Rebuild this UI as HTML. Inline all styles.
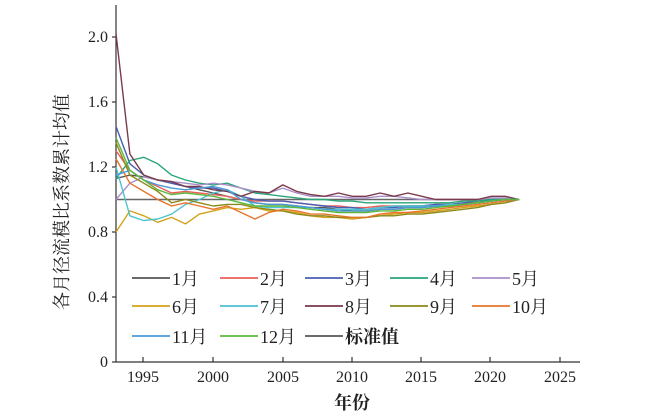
<!DOCTYPE html>
<html><head><meta charset="utf-8"><style>
html,body{margin:0;padding:0;background:#fff}
svg{display:block}
text{font-family:"Liberation Serif","Noto Serif CJK SC",serif;fill:#222}
</style></head><body>
<svg id="s" width="650" height="418" viewBox="0 0 650 418" xmlns="http://www.w3.org/2000/svg">
<g stroke="#333" stroke-width="1.2" fill="none">
<line x1="116" y1="5" x2="116" y2="362"/>
<line x1="116" y1="362" x2="580" y2="362"/>
<line x1="112" y1="37" x2="116" y2="37"/><line x1="112" y1="102" x2="116" y2="102"/><line x1="112" y1="167" x2="116" y2="167"/><line x1="112" y1="232" x2="116" y2="232"/><line x1="112" y1="297" x2="116" y2="297"/><line x1="112" y1="362" x2="116" y2="362"/>
<line x1="143" y1="362" x2="143" y2="357"/><line x1="213" y1="362" x2="213" y2="357"/><line x1="283" y1="362" x2="283" y2="357"/><line x1="352" y1="362" x2="352" y2="357"/><line x1="421" y1="362" x2="421" y2="357"/><line x1="490" y1="362" x2="490" y2="357"/><line x1="560" y1="362" x2="560" y2="357"/>
</g>
<g font-size="16" text-anchor="end">
<text x="108" y="42">2.0</text><text x="108" y="107">1.6</text><text x="108" y="172">1.2</text><text x="108" y="237">0.8</text><text x="108" y="302">0.4</text><text x="108" y="367">0</text>
</g>
<g font-size="16" text-anchor="middle">
<text x="143" y="382">1995</text><text x="213" y="382">2000</text><text x="283" y="382">2005</text><text x="352" y="382">2010</text><text x="421" y="382">2015</text><text x="490" y="382">2020</text><text x="560" y="382">2025</text>
<text x="352" y="409" font-size="18" font-weight="bold" font-family="'Noto Sans CJK SC',sans-serif">年份</text>
</g>
<text transform="translate(68,202) rotate(-90)" text-anchor="middle" font-size="18" font-family="'Noto Sans CJK SC',sans-serif">各月径流模比系数累计均值</text>
<g id="lines" fill="none" stroke-width="1.4"></g>
<g id="leg" font-size="18"></g>
</svg>
<script>
var X=function(y){return 116+(y-1993)*13.9},Y=function(v){return 362-v*162.5};
var d={
"#555":[1.13,1.15,1.14,1.12,1.10,1.08,1.06,1.04,1.02,1.00,0.98,0.97,0.97,0.96,0.95,0.95,0.94,0.93,0.93,0.94,0.94,0.95,0.95,0.96,0.96,0.97,0.98,0.99,1.0,1.0],
"#e8605a":[1.30,1.18,1.12,1.08,1.04,1.05,1.04,1.03,1.02,1.00,0.99,0.99,0.99,0.98,0.97,0.96,0.96,0.95,0.95,0.96,0.96,0.96,0.96,0.97,0.97,0.98,0.98,0.99,1.0,1.0],
"#4a5fb0":[1.45,1.22,1.15,1.12,1.10,1.08,1.07,1.07,1.05,1.02,1.00,0.99,0.99,0.98,0.97,0.96,0.95,0.95,0.94,0.95,0.95,0.96,0.96,0.97,0.97,0.98,0.99,0.99,1.0,1.0],
"#2aa57a":[1.13,1.24,1.26,1.22,1.15,1.12,1.10,1.09,1.10,1.07,1.04,1.03,1.02,1.01,1.00,1.00,0.99,0.99,0.98,0.98,0.98,0.98,0.98,0.98,0.98,0.99,0.99,1.0,1.0,1.0],
"#a98fc9":[1.00,1.10,1.14,1.12,1.11,1.10,1.09,1.10,1.09,1.07,1.05,1.04,1.07,1.04,1.02,1.02,1.02,1.01,1.01,1.02,1.02,1.01,1.00,1.00,1.00,1.00,1.00,1.01,1.01,1.0],
"#d4a21a":[0.80,0.93,0.90,0.86,0.89,0.85,0.91,0.93,0.95,0.94,0.95,0.93,0.93,0.92,0.90,0.89,0.89,0.88,0.89,0.90,0.91,0.92,0.92,0.93,0.94,0.95,0.96,0.97,0.98,1.0],
"#4cc3d0":[1.20,0.90,0.87,0.88,0.91,0.97,1.00,1.04,1.06,1.02,0.96,0.95,0.95,0.95,0.95,0.94,0.94,0.94,0.94,0.95,0.96,0.96,0.96,0.96,0.97,0.97,0.98,0.99,1.0,1.0],
"#7a3a4a":[2.02,1.28,1.15,1.12,1.11,1.08,1.08,1.06,1.05,1.02,1.05,1.04,1.09,1.05,1.03,1.02,1.04,1.02,1.02,1.04,1.02,1.04,1.02,1.00,1.00,1.00,1.00,1.02,1.02,1.0],
"#8c8a1a":[1.35,1.15,1.10,1.05,0.98,1.00,0.98,0.96,0.97,0.97,0.95,0.94,0.93,0.91,0.90,0.90,0.89,0.89,0.89,0.90,0.90,0.91,0.91,0.92,0.93,0.94,0.95,0.97,0.98,1.0],
"#e8742a":[1.25,1.10,1.05,1.00,0.96,0.98,0.96,0.94,0.96,0.92,0.88,0.92,0.94,0.93,0.91,0.91,0.90,0.89,0.89,0.91,0.92,0.92,0.93,0.94,0.95,0.96,0.97,0.98,0.99,1.0],
"#4a9ad8":[1.15,1.18,1.12,1.09,1.07,1.06,1.07,1.08,1.06,1.00,0.98,0.97,0.97,0.96,0.95,0.94,0.93,0.93,0.93,0.94,0.94,0.95,0.95,0.96,0.96,0.97,0.98,0.99,1.0,1.0],
"#5cb83a":[1.38,1.18,1.12,1.06,1.03,1.04,1.03,1.02,1.00,0.98,0.96,0.96,0.96,0.95,0.94,0.93,0.92,0.92,0.92,0.93,0.93,0.94,0.94,0.95,0.96,0.97,0.98,0.99,1.0,1.0]};
var g=document.getElementById('lines'),h='';
h+='<line x1="116" y1="'+Y(1)+'" x2="'+X(2022)+'" y2="'+Y(1)+'" stroke="#666" stroke-width="1.6"/>';
for(var c in d){var p=d[c].map(function(v,i){return X(1993+i).toFixed(1)+','+Y(v).toFixed(1)}).join(' ');h+='<polyline points="'+p+'" stroke="'+c+'" stroke-linejoin="round"/>';}
g.innerHTML=h;
var L=[["1月","#555"],["2月","#e8605a"],["3月","#4a5fb0"],["4月","#2aa57a"],["5月","#a98fc9"],["6月","#d4a21a"],["7月","#4cc3d0"],["8月","#7a3a4a"],["9月","#8c8a1a"],["10月","#e8742a"],["11月","#4a9ad8"],["12月","#5cb83a"],["标准值","#555"]];
var cx=[132,220,305,390,472],ry=[278,306,336],s='';
L.forEach(function(e,i){var x=cx[i%5],y=ry[Math.floor(i/5)];s+='<line x1="'+x+'" y1="'+y+'" x2="'+(x+38)+'" y2="'+y+'" stroke="'+e[1]+'" stroke-width="1.8"/><text x="'+(x+40)+'" y="'+(y+7)+'" font-family="\'Liberation Serif\',\'Noto Serif CJK SC\',serif"'+(i==12?' font-weight="bold"':'')+'>'+e[0]+'</text>';});
document.getElementById('leg').innerHTML=s;
</script>
</body></html>
